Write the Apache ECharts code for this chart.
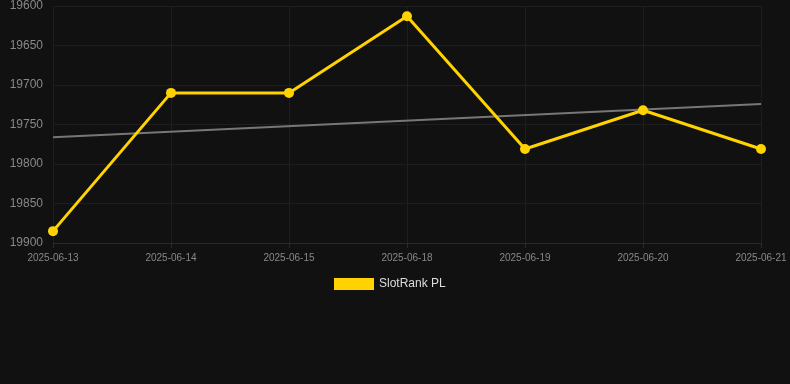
<!DOCTYPE html>
<html>
<head>
<meta charset="utf-8">
<script src="https://cdn.jsdelivr.net/npm/echarts@6/dist/echarts.min.js"></script>
<style>
html,body{margin:0;padding:0;background:#111111;}
#chart{width:790px;height:384px;}
</style>
</head>
<body>
<div id="chart"></div>
<script>
var categories = ['2025-06-13','2025-06-14','2025-06-15','2025-06-18','2025-06-19','2025-06-20','2025-06-21'];
var rankValues = [19885, 19710, 19710, 19613, 19781, 19732, 19781];
var trendValues = [19766, null, null, null, null, null, 19724];
var seriesName = 'SlotRank PL';

var chart = echarts.init(document.getElementById('chart'));
chart.setOption({
  backgroundColor: '#111111',
  animation: false,
  grid: {left: 53, right: 29, top: 6, bottom: 141},
  legend: {
    data: [seriesName],
    top: 273,
    left: 329,
    itemWidth: 40,
    itemHeight: 12,
    icon: 'rect',
    textStyle: {color: '#dddddd', fontSize: 12, fontFamily: 'Liberation Sans, Arial, sans-serif'}
  },
  xAxis: {
    type: 'category',
    data: categories,
    boundaryGap: false,
    axisLine: {show: true, lineStyle: {color: '#2a2a2a'}},
    axisTick: {show: true, alignWithLabel: true, lineStyle: {color: '#2a2a2a'}},
    axisLabel: {color: '#888888', fontSize: 10, margin: 10, fontFamily: 'Liberation Sans, Arial, sans-serif'},
    splitLine: {show: true, lineStyle: {color: '#1e1e1e'}}
  },
  yAxis: {
    type: 'value',
    inverse: true,
    min: 19600,
    max: 19900,
    interval: 50,
    axisLine: {show: false},
    axisTick: {show: false},
    axisLabel: {color: '#888888', fontSize: 12, margin: 10, fontFamily: 'Liberation Sans, Arial, sans-serif',
      formatter: function (v) { return String(v); }},
    splitLine: {show: true, lineStyle: {color: '#1e1e1e'}}
  },
  series: [
    {
      name: seriesName,
      type: 'line',
      data: rankValues,
      symbol: 'circle',
      symbolSize: 10,
      lineStyle: {color: '#FFD200', width: 3},
      itemStyle: {color: '#FFD200'},
      z: 3
    },
    {
      name: 'trend',
      type: 'line',
      data: trendValues,
      connectNulls: true,
      symbol: 'none',
      lineStyle: {color: '#777777', width: 2},
      itemStyle: {color: '#777777'},
      z: 2
    }
  ]
});
</script>
</body>
</html>
